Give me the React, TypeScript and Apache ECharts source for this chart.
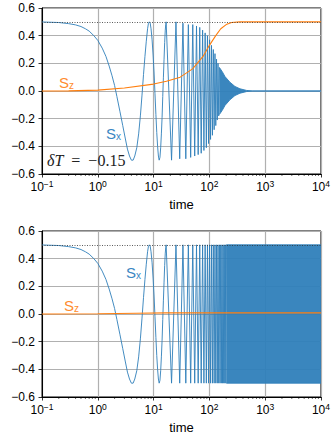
import React, { useEffect, useRef } from 'react';
import * as echarts from 'echarts';

// Early oscillation of S_x, shared by both panels
const earlyT = [0.1, 0.2, 0.3, 0.4, 0.5, 0.6, 0.7, 0.85, 1.0, 1.2, 1.4, 1.6, 1.8, 2.0, 2.2, 2.5, 2.8, 3.1, 3.4, 3.7, 4.0, 4.3, 4.6, 5.0, 5.4, 5.8, 6.2, 6.6, 7.0, 7.4, 7.8, 8.1, 8.4, 8.7, 9.0, 9.4, 9.8, 10.2, 10.6, 11.0, 11.4, 11.8, 12.2, 12.6, 13.0, 13.4, 13.8, 14.2, 14.6, 15.0, 15.4, 15.8, 16.2, 16.5, 16.8];
const earlyV = [0.499, 0.495, 0.487, 0.478, 0.466, 0.45, 0.433, 0.40, 0.366, 0.31, 0.25, 0.18, 0.11, 0.04, -0.04, -0.15, -0.25, -0.34, -0.42, -0.47, -0.5, -0.5, -0.47, -0.41, -0.31, -0.18, -0.03, 0.12, 0.25, 0.36, 0.45, 0.49, 0.5, 0.49, 0.45, 0.37, 0.26, 0.13, -0.02, -0.17, -0.3, -0.4, -0.47, -0.5, -0.48, -0.41, -0.31, -0.19, -0.04, 0.1, 0.23, 0.35, 0.44, 0.48, 0.5];

// Later extrema (times of the turning points)
const extremaT = [21.0, 25.2, 29.4, 33.6, 37.8, 42.0, 46.2, 50.4, 54.6, 58.8, 63.0, 67.2, 71.4, 75.6, 79.8, 84.0, 88.2, 92.4, 96.6, 100.8, 105.0, 109.2, 113.4, 117.6, 121.8, 126.0, 130.2, 134.4, 138.6, 142.8, 147.0, 151.2, 155.4, 159.6, 163.8, 168.0, 172.2, 176.4, 180.6, 184.8, 189.0, 193.2, 197.4, 201.6];
const sxTopExtrema = [-0.5, 0.5, -0.49, 0.49, -0.49, 0.48, -0.48, 0.48, -0.47, 0.47, -0.46, 0.46, -0.45, 0.44, -0.43, 0.42, -0.41, 0.40, -0.38, 0.37, -0.35, 0.33, -0.32, 0.30, -0.28, 0.27, -0.25, 0.23, -0.21, 0.20, -0.18, 0.17];
const sxBottomExtrema = [-0.5, 0.5, -0.5, 0.5, -0.5, 0.5, -0.5, 0.5, -0.5, 0.5, -0.5, 0.5, -0.5, 0.5, -0.5, 0.5, -0.5, 0.5, -0.5, 0.5, -0.5, 0.5, -0.5, 0.5, -0.5, 0.5, -0.5, 0.5, -0.5, 0.5, -0.5, 0.5, -0.5, 0.5, -0.5, 0.5, -0.5, 0.5, -0.5, 0.5, -0.5, 0.5, -0.5, 0.5];

// Envelope of the dense (unresolved) oscillation
const bandTopT = [151.2, 170, 190, 233, 287, 353, 465, 600, 10000];
const bandTopUpper = [0.17, 0.14, 0.105, 0.064, 0.033, 0.016, 0.004, 0, 0];
const bandTopLower = [-0.17, -0.14, -0.105, -0.064, -0.033, -0.016, -0.004, 0, 0];
const bandBottomT = [201.6, 10000];
const bandBottomUpper = [0.5, 0.5];
const bandBottomLower = [-0.5, -0.5];

// S_z
const szTopT = [0.1, 0.3, 1, 3, 10, 17, 30, 50, 77, 100, 130, 160, 200, 250, 350, 10000];
const szTopV = [0, 0.001, 0.006, 0.022, 0.05, 0.07, 0.1, 0.16, 0.25, 0.33, 0.40, 0.45, 0.48, 0.495, 0.5, 0.5];
const szBottomT = [0.1, 1, 5, 17, 100, 10000];
const szBottomV = [0, 0.002, 0.005, 0.008, 0.008, 0.008];

const plateau = 0.5;
const minorTicks = [0.2, 0.3, 0.4, 0.5, 0.6, 0.7, 0.8, 0.9, 2, 3, 4, 5, 6, 7, 8, 9, 20, 30, 40, 50, 60, 70, 80, 90, 200, 300, 400, 500, 600, 700, 800, 900, 2000, 3000, 4000, 5000, 6000, 7000, 8000, 9000];
const xMin = 0.1;
const xMax = 10000;
const yMin = -0.6;
const yMax = 0.6;
const yStep = 0.2;

const BLUE = '#2f7fba';
const ORANGE = '#ff7f0e';
const FONT = 'Liberation Sans, Arial, sans-serif';

const pairs = (t: number[], v: number[]) => t.map((x, i) => [x, v[i]]);

export default function App() {
  const ref = useRef<HTMLDivElement>(null);
  useEffect(() => {
    document.body.style.margin = '0';
    const chart = echarts.init(ref.current!, null, { renderer: 'svg' });
    const grids = [
      { left: 42, top: 8, width: 279, height: 166 },
      { left: 42, top: 231, width: 279, height: 166 },
    ];
    const xAxis = grids.map((_, i) => ({
      type: 'log',
      logBase: 10,
      gridIndex: i,
      min: xMin,
      max: xMax,
      name: 'time',
      nameLocation: 'middle',
      nameGap: 24,
      nameTextStyle: { color: '#000', fontSize: 13, fontFamily: FONT },
      axisLine: { show: true, onZero: false, lineStyle: { color: '#000', width: 1 } },
      axisTick: { show: true, length: 3.5, lineStyle: { color: '#000', width: 0.8 } },
      minorTick: { show: false },
      splitLine: { show: true, lineStyle: { color: '#b0b0b0', width: 1.2 } },
      axisLabel: {
        margin: 5,
        color: '#000',
        formatter: (v: number) => {
          const e = Math.round(Math.log10(v));
          return `{b|10}{s|${e < 0 ? '\u2212' + -e : e}}`;
        },
        rich: {
          b: { fontSize: 12, fontFamily: FONT, color: '#000', lineHeight: 14, verticalAlign: 'bottom' },
          s: { fontSize: 8.5, fontFamily: FONT, color: '#000', lineHeight: 14, verticalAlign: 'top' },
        },
      },
    }));
    const yAxis = grids.map((_, i) => ({
      type: 'value',
      gridIndex: i,
      min: yMin,
      max: yMax,
      interval: yStep,
      axisLine: { show: true, onZero: false, lineStyle: { color: '#000', width: 1 } },
      axisTick: { show: true, length: 3.5, lineStyle: { color: '#000', width: 0.8 } },
      splitLine: { show: true, lineStyle: { color: '#b0b0b0', width: 1.2 } },
      axisLabel: {
        margin: 7,
        color: '#000',
        fontSize: 12,
        fontFamily: FONT,
        formatter: (v: number) => (v < -1e-9 ? '\u2212' + Math.abs(v).toFixed(1) : Math.abs(v).toFixed(1)),
      },
    }));

    const sxTop = pairs(earlyT, earlyV).concat(pairs(extremaT.slice(0, sxTopExtrema.length), sxTopExtrema));
    const sxBottom = pairs(earlyT, earlyV).concat(pairs(extremaT.slice(0, sxBottomExtrema.length), sxBottomExtrema));

    const panels = [
      { sx: sxTop, bandT: bandTopT, up: bandTopUpper, lo: bandTopLower, sz: pairs(szTopT, szTopV) },
      { sx: sxBottom, bandT: bandBottomT, up: bandBottomUpper, lo: bandBottomLower, sz: pairs(szBottomT, szBottomV) },
    ];

    const series: any[] = [];
    panels.forEach((p, i) => {
      series.push({
        type: 'line', xAxisIndex: i, yAxisIndex: i, showSymbol: false, silent: true, z: 2,
        lineStyle: { color: BLUE, width: 0.9 },
        data: p.sx,
        markLine: {
          silent: true, symbol: 'none', label: { show: false },
          lineStyle: { type: [1, 1.5], color: '#333', width: 0.8 },
          data: [{ yAxis: plateau }],
        },
      });
      [p.up, p.lo].forEach((env) => {
        series.push({
          type: 'line', xAxisIndex: i, yAxisIndex: i, showSymbol: false, silent: true, z: 2,
          lineStyle: { color: BLUE, width: 0.9 },
          areaStyle: { color: BLUE, opacity: 0.95 },
          data: pairs(p.bandT, env),
        });
      });
      series.push({
        type: 'line', xAxisIndex: i, yAxisIndex: i, showSymbol: false, silent: true, z: 3,
        lineStyle: { color: ORANGE, width: 1.1 },
        data: p.sz,
      });
      series.push({
        type: 'custom', xAxisIndex: i, yAxisIndex: i, silent: true, clip: false, z: 4,
        data: minorTicks.map((v) => [v, yMin]),
        renderItem: (_params: any, api: any) => {
          const pt = api.coord([api.value(0), api.value(1)]);
          return {
            type: 'line',
            shape: { x1: pt[0], y1: pt[1], x2: pt[0], y2: pt[1] + 2 },
            style: { stroke: '#000', lineWidth: 0.6 },
          };
        },
      });
    });

    const sLabel = (x: number, y: number, sub: string, color: string) => ({
      type: 'text', x, y, z: 10,
      style: {
        text: `{a|S}{b|${sub}}`,
        rich: {
          a: { fontSize: 15, fontFamily: FONT, fill: color, lineHeight: 16, verticalAlign: 'bottom' },
          b: { fontSize: 10, fontFamily: FONT, fill: color, lineHeight: 16, verticalAlign: 'bottom' },
        },
      },
    });

    chart.setOption({
      animation: false,
      grid: grids.map((g) => ({ ...g, show: true, borderColor: '#000', borderWidth: 1, backgroundColor: 'transparent' })),
      xAxis,
      yAxis,
      series,
      graphic: [
        sLabel(59, 74, 'z', '#ff8c2e'),
        sLabel(106, 125, 'x', '#3a86c2'),
        sLabel(126, 264, 'x', '#3a86c2'),
        sLabel(64, 297, 'z', '#ff8c2e'),
        {
          type: 'text', x: 47, y: 152, z: 10,
          style: {
            text: '{i|\u03b4T}{r|  =  \u22120.15}',
            rich: {
              i: { fontSize: 16, fontFamily: 'Liberation Serif, serif', fontStyle: 'italic', fill: '#222' },
              r: { fontSize: 16, fontFamily: 'Liberation Serif, serif', fill: '#222' },
            },
          },
        },
      ],
    });
    return () => chart.dispose();
  }, []);
  return <div ref={ref} style={{ width: 333, height: 438 }} />;
}
